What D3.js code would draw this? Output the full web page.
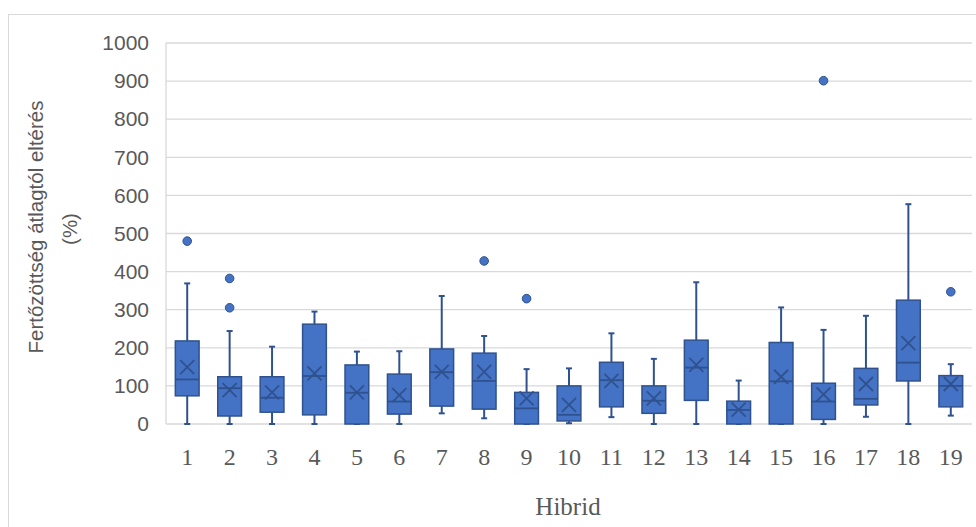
<!DOCTYPE html>
<html><head><meta charset="utf-8">
<script src="https://cdn.jsdelivr.net/npm/d3@7"></script>
<style>body{margin:0;background:#fff}svg{display:block}</style>
</head><body><svg id="c" width="976" height="527"></svg>
<script>
const categories = ["1","2","3","4","5","6","7","8","9","10","11","12","13","14","15","16","17","18","19"];
const whiskerLow  = [0,   0,   0,   0,   0,   0,   28,  15,  0,   2,   18,  0,   0,   0,   0,   0,   19,  0,   22];
const q1          = [74,  21,  31,  24,  0,   26,  47,  39,  0,   8,   45,  28,  62,  0,   0,   12,  50,  113, 45];
const median      = [117, 94,  69,  126, 82,  59,  136, 113, 41,  24,  115, 61,  148, 37,  112, 59,  66,  161, 100];
const q3          = [218, 124, 124, 262, 155, 131, 197, 186, 83,  100, 162, 100, 220, 60,  214, 107, 146, 325, 127];
const whiskerHigh = [369, 244, 203, 295, 190, 191, 336, 231, 144, 146, 238, 171, 372, 114, 306, 247, 284, 577, 157];
const mean        = [149, 89,  83,  133, 83,  76,  137, 137, 67,  50,  113, 67,  155, 38,  124, 78,  105, 212, 105];
const outliers    = [[480],[382,305],[],[],[],[],[],[428],[329],[],[],[],[],[],[],[901],[],[],[347]];
const yTicks = [0,100,200,300,400,500,600,700,800,900,1000];
const yTitle1 = "Fertőzöttség átlagtól eltérés";
const yTitle2 = "(%)";
const xTitle = "Hibrid";

const svg = d3.select("#c");
const W = 976, H = 527;
const plotL = 166, plotR = 972, plotT = 43, plotB = 424;

const fill = "#4472C4", dark = "#2F528F", grid = "#d9d9d9", txt = "#595959";

// outer frame
svg.append("rect").attr("x", 8.5).attr("y", 14.5).attr("width", W).attr("height", H)
  .attr("fill", "none").attr("stroke", grid).attr("stroke-width", 1);

const x = d3.scaleBand().domain(categories).range([plotL, plotR]).padding(0);
const y = d3.scaleLinear().domain([0, 1000]).range([plotB, plotT]);

// gridlines
svg.append("g").selectAll("line").data(yTicks).join("line")
  .attr("x1", plotL).attr("x2", plotR)
  .attr("y1", d => y(d)).attr("y2", d => y(d))
  .attr("stroke", grid).attr("stroke-width", 1.3);
// y axis line
svg.append("line").attr("x1", plotL).attr("x2", plotL).attr("y1", y(1000)).attr("y2", y(0))
  .attr("stroke", grid).attr("stroke-width", 1.3);

// y axis labels
const yAxis = d3.axisLeft(y).tickValues(yTicks).tickFormat(d3.format("d")).tickSize(0).tickPadding(17);
const gy = svg.append("g").attr("transform", `translate(${plotL},0)`).call(yAxis);
gy.select(".domain").remove();
gy.selectAll("text").attr("font-family", "'Liberation Sans', Arial, sans-serif")
  .attr("font-size", 21).attr("fill", txt);

// x axis labels
const xAxis = d3.axisBottom(x).tickSize(0).tickPadding(24);
const gx = svg.append("g").attr("transform", `translate(0,${plotB})`).call(xAxis);
gx.select(".domain").remove();
gx.selectAll("text").attr("font-family", "'Liberation Serif', 'Times New Roman', serif")
  .attr("font-size", 24).attr("fill", txt);

// titles
svg.append("text").attr("transform", "translate(43,227) rotate(-90)")
  .attr("text-anchor", "middle").attr("font-family", "'Liberation Sans', Arial, sans-serif")
  .attr("font-size", 20.5).attr("fill", txt).text(yTitle1);
svg.append("text").attr("transform", "translate(77,229) rotate(-90)")
  .attr("text-anchor", "middle").attr("font-family", "'Liberation Sans', Arial, sans-serif")
  .attr("font-size", 20.5).attr("fill", txt).text(yTitle2);
svg.append("text").attr("x", 568).attr("y", 515)
  .attr("text-anchor", "middle").attr("font-family", "'Liberation Serif', 'Times New Roman', serif")
  .attr("font-size", 25).attr("fill", txt).text(xTitle);

// boxes
const bw = x.bandwidth() * 0.56;
const cap = 6;
const boxes = svg.append("g").selectAll("g").data(categories).join("g")
  .attr("transform", d => `translate(${x(d) + x.bandwidth() / 2},0)`);

boxes.append("line").attr("x1", 0).attr("x2", 0)
  .attr("y1", (d, i) => y(whiskerHigh[i])).attr("y2", (d, i) => y(q3[i]))
  .attr("stroke", dark).attr("stroke-width", 2);
boxes.append("line").attr("x1", 0).attr("x2", 0)
  .attr("y1", (d, i) => y(q1[i])).attr("y2", (d, i) => y(whiskerLow[i]))
  .attr("stroke", dark).attr("stroke-width", 2);
boxes.append("line").attr("x1", -cap / 2).attr("x2", cap / 2)
  .attr("y1", (d, i) => y(whiskerHigh[i])).attr("y2", (d, i) => y(whiskerHigh[i]))
  .attr("stroke", dark).attr("stroke-width", 2);
boxes.append("line").attr("x1", -cap / 2).attr("x2", cap / 2)
  .attr("y1", (d, i) => y(whiskerLow[i])).attr("y2", (d, i) => y(whiskerLow[i]))
  .attr("stroke", dark).attr("stroke-width", 2);
boxes.append("rect").attr("x", -bw / 2).attr("width", bw)
  .attr("y", (d, i) => y(q3[i])).attr("height", (d, i) => y(q1[i]) - y(q3[i]))
  .attr("fill", fill).attr("stroke", dark).attr("stroke-width", 1.5);
boxes.append("line").attr("x1", -bw / 2).attr("x2", bw / 2)
  .attr("y1", (d, i) => y(median[i])).attr("y2", (d, i) => y(median[i]))
  .attr("stroke", dark).attr("stroke-width", 1.8);
const m = 7;
boxes.append("path")
  .attr("d", (d, i) => { const c = y(mean[i]); return `M${-m},${c - m}L${m},${c + m}M${-m},${c + m}L${m},${c - m}`; })
  .attr("stroke", dark).attr("stroke-width", 1.8).attr("fill", "none");
boxes.selectAll("circle").data((d, i) => outliers[i]).join("circle")
  .attr("cx", 0).attr("cy", v => y(v)).attr("r", 4.3)
  .attr("fill", fill).attr("stroke", dark).attr("stroke-width", 1);
</script></body></html>
